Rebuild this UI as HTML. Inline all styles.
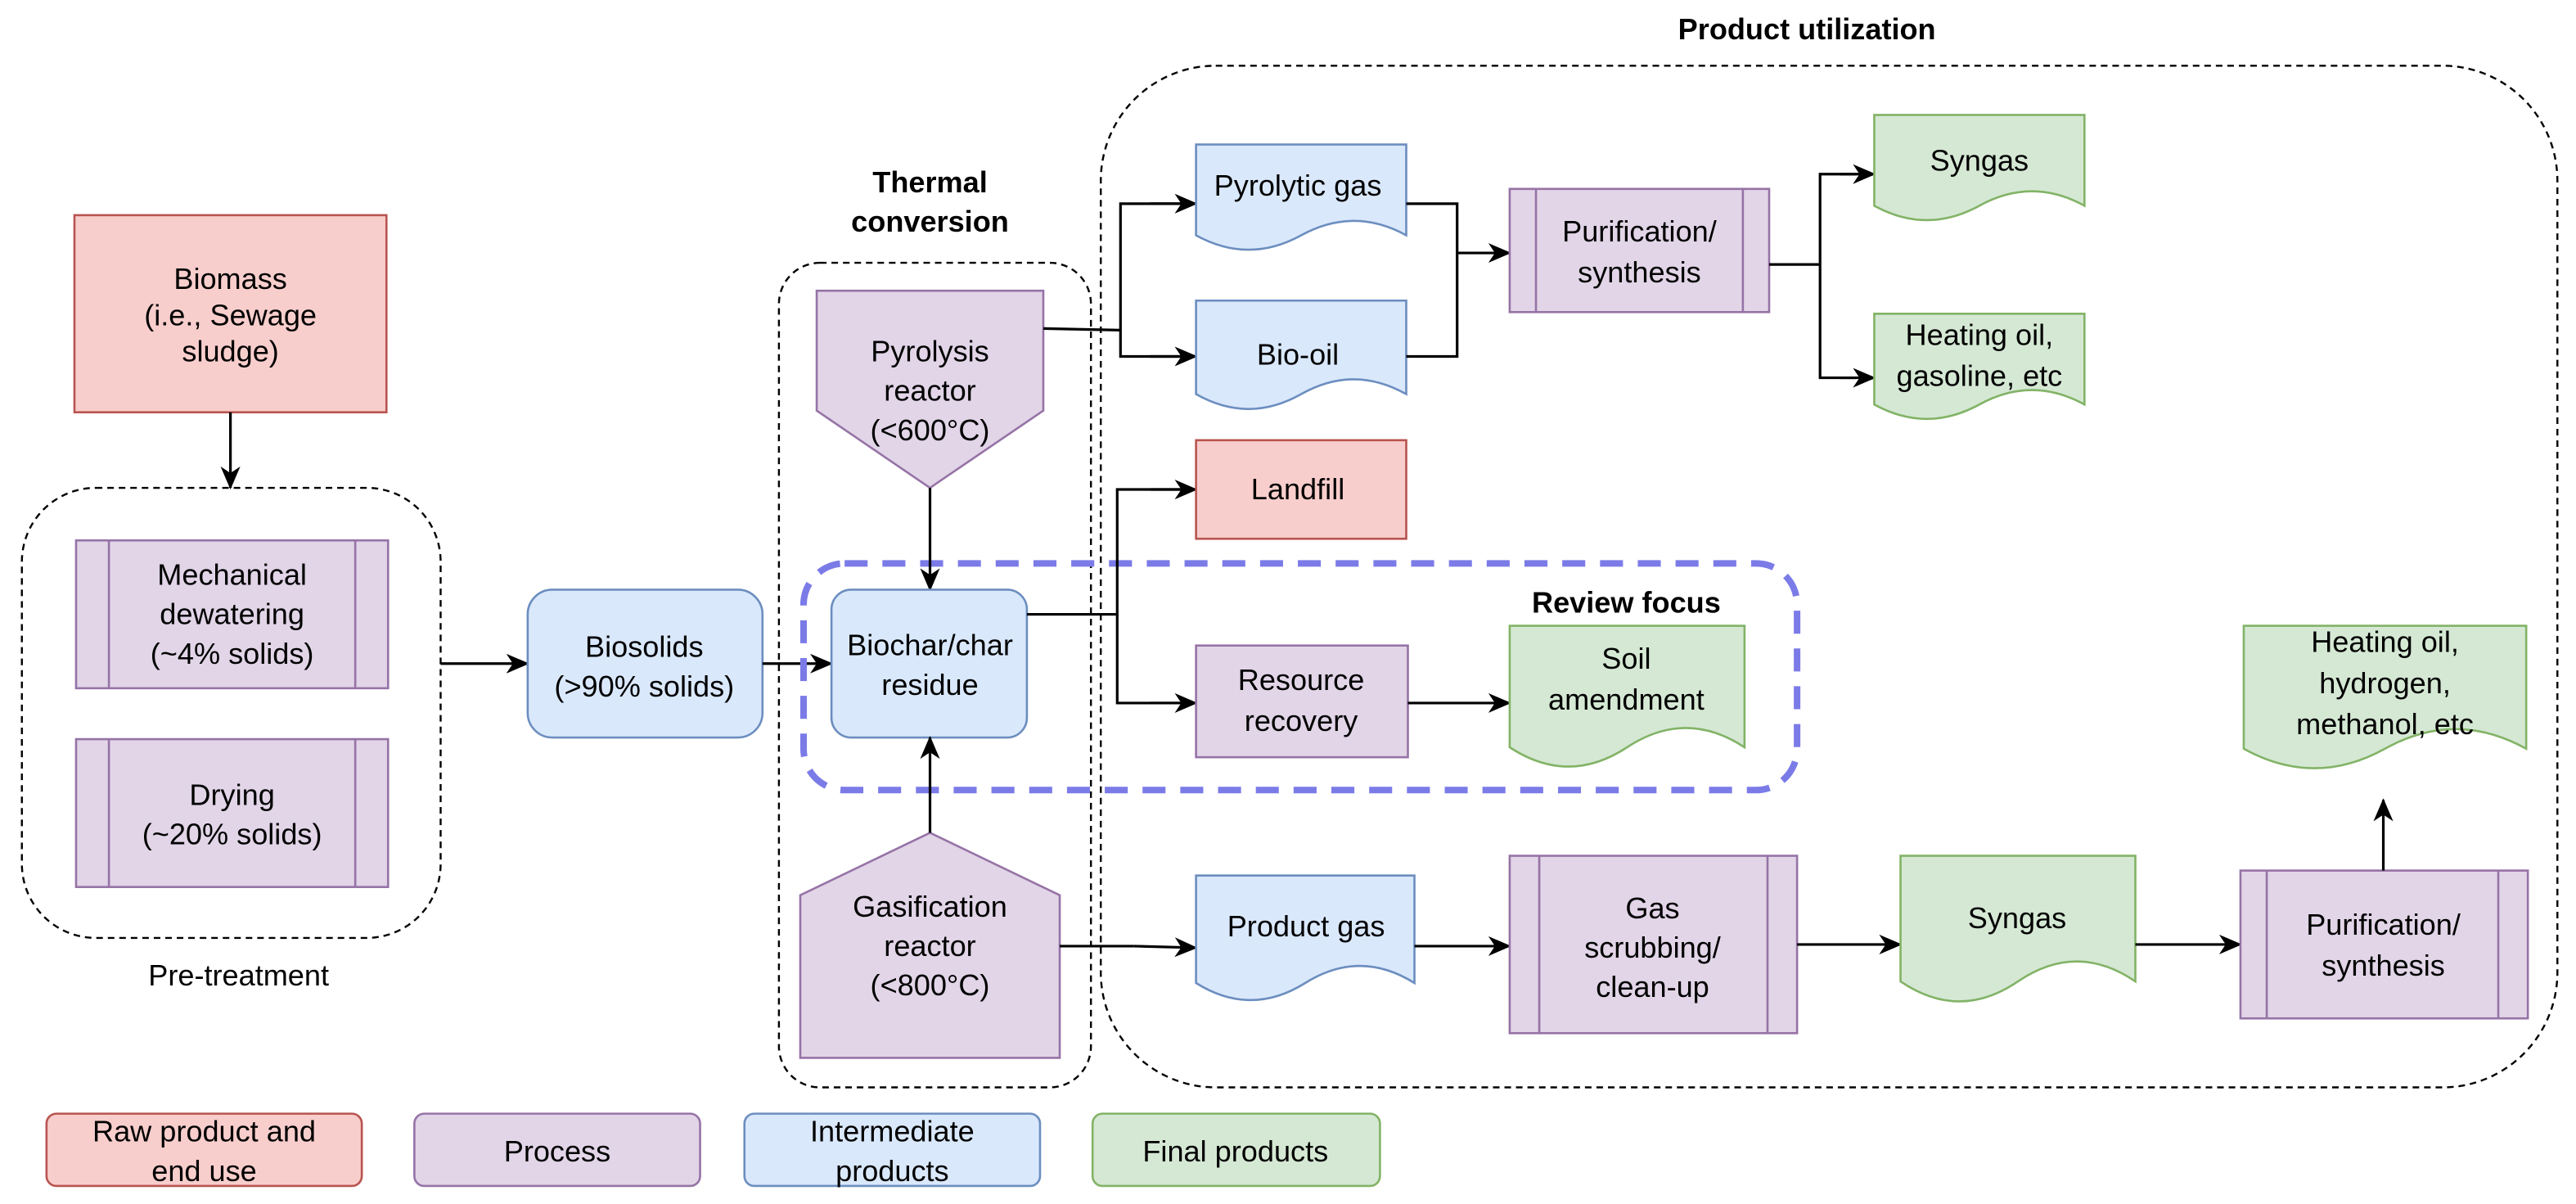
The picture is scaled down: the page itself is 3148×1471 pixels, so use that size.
<!DOCTYPE html>
<html><head><meta charset="utf-8"><style>
html,body{margin:0;padding:0;background:#fff}
svg{display:block}
text{font-family:"Liberation Sans",Arial,sans-serif;font-size:18px;fill:#000;text-anchor:middle}
.b{font-weight:bold}
.proc{fill:#e1d5e7;stroke:#9673a6;stroke-width:1.3}
.blue{fill:#dae8fc;stroke:#6c8ebf;stroke-width:1.3}
.red{fill:#f8cecc;stroke:#b85450;stroke-width:1.3}
.green{fill:#d5e8d4;stroke:#82b366;stroke-width:1.3}
.dash{fill:none;stroke:#000;stroke-width:1.2;stroke-dasharray:4,3}
.ln{fill:none;stroke:#000;stroke-width:1.6}
</style></head><body>
<svg width="3148" height="1471" viewBox="0 0 1568 733" xmlns="http://www.w3.org/2000/svg">
<defs>
<marker id="ar" markerWidth="14" markerHeight="14" refX="13" refY="7" orient="auto" markerUnits="userSpaceOnUse">
<path d="M0,1 L14,7 L0,13 L4,7 Z" fill="#000"/>
</marker>
</defs>

<rect class="dash" x="13" y="297" width="255" height="274" rx="45"/>
<text x="145" y="600">Pre-treatment</text>
<rect class="dash" x="474" y="160" width="190" height="502" rx="25"/>
<text class="b" x="566" y="117">Thermal</text>
<text class="b" x="566" y="141">conversion</text>
<rect class="dash" x="670" y="40" width="887" height="622" rx="70"/>
<text class="b" x="1100" y="24">Product utilization</text>

<rect class="red" x="45" y="131" width="190" height="120"/>
<text x="140" y="176">Biomass</text>
<text x="140" y="198">(i.e., Sewage</text>
<text x="140" y="220">sludge)</text>
<line class="ln" x1="140" y1="251" x2="140" y2="297" marker-end="url(#ar)"/>

<rect class="proc" x="46" y="329" width="190" height="90"/>
<line class="proc" x1="66" y1="329" x2="66" y2="419"/><line class="proc" x1="216" y1="329" x2="216" y2="419"/>
<text x="141" y="356">Mechanical</text>
<text x="141" y="380">dewatering</text>
<text x="141" y="404">(~4% solids)</text>
<rect class="proc" x="46" y="450" width="190" height="90"/>
<line class="proc" x1="66" y1="450" x2="66" y2="540"/><line class="proc" x1="216" y1="450" x2="216" y2="540"/>
<text x="141" y="490">Drying</text>
<text x="141" y="514">(~20% solids)</text>

<line class="ln" x1="268" y1="404" x2="321" y2="404" marker-end="url(#ar)"/>
<rect class="blue" x="321" y="359" width="143" height="90" rx="15"/>
<text x="392" y="400">Biosolids</text>
<text x="392" y="424">(&gt;90% solids)</text>
<line class="ln" x1="464" y1="404" x2="506" y2="404" marker-end="url(#ar)"/>

<rect x="489" y="343" width="605" height="138" rx="25" fill="none" stroke="#7b7be8" stroke-width="4" stroke-dasharray="14,9"/>
<text class="b" x="990" y="373">Review focus</text>

<path class="proc" d="M497,177 H635 V250 L566,297 L497,250 Z"/>
<text x="566" y="220">Pyrolysis</text>
<text x="566" y="244">reactor</text>
<text x="566" y="268">(&lt;600°C)</text>
<line class="ln" x1="566" y1="297" x2="566" y2="359" marker-end="url(#ar)"/>

<rect class="blue" x="506" y="359" width="119" height="90" rx="12"/>
<text x="566" y="399">Biochar/char</text>
<text x="566" y="423">residue</text>

<path class="proc" d="M566,507 L645,545 V644 H487 V545 Z"/>
<text x="566" y="558">Gasification</text>
<text x="566" y="582">reactor</text>
<text x="566" y="606">(&lt;800°C)</text>
<line class="ln" x1="566" y1="507" x2="566" y2="449" marker-end="url(#ar)"/>

<polyline class="ln" points="635,200 682,201"/>
<polyline class="ln" points="720,124 682,124 682,217 720,217"/>
<line class="ln" x1="700" y1="124" x2="728" y2="124" marker-end="url(#ar)"/>
<line class="ln" x1="700" y1="217" x2="728" y2="217" marker-end="url(#ar)"/>
<path class="blue" d="M728,88 H856 V143.25 Q824,125.7 792,143.25 Q760,160.8 728,143.25 Z"/>
<text x="790" y="119">Pyrolytic gas</text>
<path class="blue" d="M728,183 H856 V239.95 Q824,221.86 792,239.95 Q760,258.04 728,239.95 Z"/>
<text x="790" y="222">Bio-oil</text>
<polyline class="ln" points="856,124 887,124 887,217 856,217"/>
<line class="ln" x1="887" y1="154" x2="919" y2="154" marker-end="url(#ar)"/>

<rect class="proc" x="919" y="115" width="158" height="75"/>
<line class="proc" x1="935" y1="115" x2="935" y2="190"/><line class="proc" x1="1061" y1="115" x2="1061" y2="190"/>
<text x="998" y="147">Purification/</text>
<text x="998" y="172">synthesis</text>
<polyline class="ln" points="1077,161 1108,161"/>
<polyline class="ln" points="1130,106 1108,106 1108,230 1130,230"/>
<line class="ln" x1="1120" y1="106" x2="1141" y2="106" marker-end="url(#ar)"/>
<line class="ln" x1="1120" y1="230" x2="1141" y2="230" marker-end="url(#ar)"/>
<path class="green" d="M1141,70 H1269 V125.25 Q1237,107.7 1205,125.25 Q1173,142.8 1141,125.25 Z"/>
<text x="1205" y="104">Syngas</text>
<path class="green" d="M1141,191 H1269 V246.25 Q1237,228.7 1205,246.25 Q1173,263.8 1141,246.25 Z"/>
<text x="1205" y="210">Heating oil,</text>
<text x="1205" y="235">gasoline, etc</text>

<polyline class="ln" points="625,374 680,374"/>
<polyline class="ln" points="720,298 680,298 680,428 720,428"/>
<line class="ln" x1="700" y1="298" x2="728" y2="298" marker-end="url(#ar)"/>
<line class="ln" x1="700" y1="428" x2="728" y2="428" marker-end="url(#ar)"/>
<rect class="red" x="728" y="268" width="128" height="60"/>
<text x="790" y="304">Landfill</text>
<rect class="proc" x="728" y="393" width="129" height="68"/>
<text x="792" y="420">Resource</text>
<text x="792" y="445">recovery</text>
<line class="ln" x1="857" y1="428" x2="919" y2="428" marker-end="url(#ar)"/>
<path class="green" d="M919,381 H1062 V454.95 Q1026.25,431.46 990.5,454.95 Q954.75,478.44 919,454.95 Z"/>
<text x="990" y="407">Soil</text>
<text x="990" y="432">amendment</text>

<polyline class="ln" points="645,576 690,576"/>
<line class="ln" x1="690" y1="576" x2="728" y2="577" marker-end="url(#ar)"/>
<path class="blue" d="M728,533 H861 V598.45 Q827.75,577.66 794.5,598.45 Q761.25,619.24 728,598.45 Z"/>
<text x="795" y="570">Product gas</text>
<line class="ln" x1="861" y1="576" x2="919" y2="576" marker-end="url(#ar)"/>
<rect class="proc" x="919" y="521" width="175" height="108"/>
<line class="proc" x1="937" y1="521" x2="937" y2="629"/><line class="proc" x1="1076" y1="521" x2="1076" y2="629"/>
<text x="1006" y="559">Gas</text>
<text x="1006" y="583">scrubbing/</text>
<text x="1006" y="607">clean-up</text>
<line class="ln" x1="1094" y1="575" x2="1157" y2="575" marker-end="url(#ar)"/>
<path class="green" d="M1157,521 H1300 V597.5 Q1264.25,573.2 1228.5,597.5 Q1192.75,621.8 1157,597.5 Z"/>
<text x="1228" y="565">Syngas</text>
<line class="ln" x1="1300" y1="575" x2="1364" y2="575" marker-end="url(#ar)"/>
<rect class="proc" x="1364" y="530" width="175" height="90"/>
<line class="proc" x1="1380" y1="530" x2="1380" y2="620"/><line class="proc" x1="1521" y1="530" x2="1521" y2="620"/>
<text x="1451" y="569">Purification/</text>
<text x="1451" y="594">synthesis</text>
<line class="ln" x1="1451" y1="530" x2="1451" y2="487" marker-end="url(#ar)"/>
<path class="green" d="M1366,381 H1538 V455.8 Q1495,432.04 1452,455.8 Q1409,479.56 1366,455.8 Z"/>
<text x="1452" y="397">Heating oil,</text>
<text x="1452" y="422">hydrogen,</text>
<text x="1452" y="447">methanol, etc</text>

<rect class="red" x="28" y="678" width="192" height="44" rx="6"/>
<text x="124" y="695">Raw product and</text>
<text x="124" y="719">end use</text>
<rect class="proc" x="252" y="678" width="174" height="44" rx="6"/>
<text x="339" y="707">Process</text>
<rect class="blue" x="453" y="678" width="180" height="44" rx="6"/>
<text x="543" y="695">Intermediate</text>
<text x="543" y="719">products</text>
<rect class="green" x="665" y="678" width="175" height="44" rx="6"/>
<text x="752" y="707">Final products</text>
</svg>
</body></html>
